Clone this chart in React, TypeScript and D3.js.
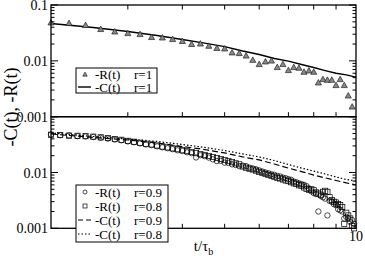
import React from 'react';
import * as d3 from 'd3';

// upper panel: r = 1
const tUpper = [2.0, 2.2, 2.4, 2.6, 2.8, 3.0, 3.2, 3.4, 3.6, 3.8, 4.0, 4.2, 4.4, 4.6, 4.8, 5.0, 5.2, 5.4, 5.6, 5.8,
  6.0, 6.2, 6.4, 6.6, 6.8, 7.0, 7.2, 7.4, 7.6, 7.8, 8.0, 8.2, 8.4, 8.6, 8.8, 9.0, 9.2, 9.4, 9.6, 9.8];
const rUpper = [0.0482, 0.047, 0.0433, 0.0367, 0.0332, 0.0311, 0.0298, 0.0264, 0.0259, 0.0243, 0.0224, 0.0198,
  0.0202, 0.0184, 0.0168, 0.0165, 0.014, 0.0136, 0.0123, 0.0103, 0.00866, 0.00964, 0.01, 0.00765, 0.00866,
  0.00676, 0.00765, 0.00743, 0.0063, 0.00665, 0.0063, 0.00406, 0.00466, 0.00453, 0.00453, 0.00364, 0.00466,
  0.00364, 0.00237, 0.0015];

const tLine = [2, 2.5, 3, 3.5, 4, 4.5, 5, 5.5, 6, 6.5, 7, 7.5, 8, 8.5, 9, 9.5, 10];
const cUpper = [0.0466, 0.0395, 0.0335, 0.0284, 0.0241, 0.0208, 0.018, 0.015, 0.013, 0.011, 0.0099, 0.0086,
  0.0076, 0.0067, 0.006, 0.0056, 0.0051];

// lower panel: r = 0.9 and r = 0.8
const cLower09 = [0.049, 0.0424, 0.0382, 0.0338, 0.0292, 0.0258, 0.0224, 0.019, 0.0168, 0.0142, 0.012, 0.0104,
  0.009, 0.008, 0.0072, 0.0065, 0.006];
const cLower08 = [0.051, 0.0442, 0.0398, 0.036, 0.0318, 0.0281, 0.0248, 0.0215, 0.019, 0.0164, 0.0139, 0.012,
  0.0106, 0.0094, 0.0083, 0.0075, 0.00704];

const tLower = [2.0, 2.1, 2.2, 2.3, 2.4, 2.5, 2.6, 2.7, 2.8, 2.9, 3.0, 3.1, 3.2, 3.3, 3.4, 3.5, 3.6, 3.7, 3.8, 3.9,
  4.0, 4.1, 4.2, 4.3, 4.4, 4.5, 4.6, 4.7, 4.8, 4.9, 5.0, 5.1, 5.2, 5.3, 5.4, 5.5, 5.6, 5.7, 5.8, 5.9,
  6.0, 6.1, 6.2, 6.3, 6.4, 6.5, 6.6, 6.7, 6.8, 6.9, 7.0, 7.1, 7.2, 7.3, 7.4, 7.5, 7.6, 7.7, 7.8, 7.9,
  8.0, 8.1, 8.2, 8.3, 8.4, 8.5, 8.6, 8.7, 8.8, 8.9, 9.0, 9.1, 9.2, 9.3, 9.4, 9.5, 9.6, 9.7, 9.8, 9.9];
const rLower09 = [0.048, 0.0465, 0.0462, 0.0448, 0.0442, 0.0432, 0.0418, 0.0405, 0.039, 0.0378,
  0.0361, 0.0348, 0.0332, 0.0318, 0.0309, 0.0294, 0.0283, 0.0272, 0.0262, 0.025,
  0.0243, 0.023, 0.0222, 0.0186, 0.0204, 0.0196, 0.0185, 0.0172, 0.016, 0.0162,
  0.015, 0.0148, 0.014, 0.0136, 0.013, 0.0133, 0.013, 0.0122, 0.0118, 0.0114,
  0.0109, 0.0104, 0.01, 0.0097, 0.0093, 0.0091, 0.0087, 0.0085, 0.0081, 0.0079,
  0.0076, 0.0074, 0.0069, 0.0067, 0.0064, 0.0062, 0.006, 0.0057, 0.0052, 0.0046,
  0.0043, 0.0041, 0.002, 0.0038, 0.0036, 0.0034, 0.0017, 0.0031, 0.003, 0.0027,
  0.0026, 0.0022, 0.0021, 0.002, 0.0015, 0.0016, 0.0015, 0.0013, 0.0014, 0.0012];
const rLower08 = [0.0475, 0.047, 0.0458, 0.0455, 0.0448, 0.044, 0.0428, 0.0415, 0.0398, 0.0386,
  0.037, 0.0356, 0.0342, 0.0328, 0.0318, 0.0305, 0.0292, 0.0282, 0.0271, 0.0262,
  0.0251, 0.0242, 0.0233, 0.0222, 0.0214, 0.0205, 0.0198, 0.019, 0.0182, 0.0175,
  0.0167, 0.016, 0.0153, 0.0146, 0.014, 0.0128, 0.0122, 0.0117, 0.0113, 0.0108,
  0.0103, 0.0099, 0.0094, 0.009, 0.0087, 0.0084, 0.008, 0.0078, 0.0075, 0.0072,
  0.007, 0.0067, 0.0064, 0.0062, 0.0059, 0.0058, 0.0054, 0.0051, 0.0049, 0.005,
  0.0048, 0.0044, 0.0042, 0.004, 0.0045, 0.0047, 0.0045, 0.0036, 0.0032, 0.003,
  0.0029, 0.0027, 0.0026, 0.0024, 0.0012, 0.0019, 0.0017, 0.0015, 0.0011, 0.001];

const yDecades = [0.1, 0.01, 0.001];
const xMinor = [3, 4, 5, 6, 7, 8, 9];

const W = 365, H = 261;
const L = 51, R = 356;
const TOP = 5, MID = 116.7, BOT = 228.3;
const FONT = "'Liberation Serif', 'Times New Roman', serif";

const x = d3.scaleLog().domain([2, 10]).range([L, R]);
const yUp = d3.scaleLog().domain([0.001, 0.1]).range([MID, TOP]);
const yLo = d3.scaleLog().domain([0.001, 0.1]).range([BOT, MID]);

const yMinor: number[] = [];
[0.001, 0.01].forEach(d => { for (let k = 2; k <= 9; k++) yMinor.push(d * k); });

const tri = (cx: number, cy: number, s: number) =>
  `M${cx},${cy - s}L${cx + s * 0.95},${cy + s * 0.7}L${cx - s * 0.95},${cy + s * 0.7}Z`;

function Frame({ y, y0, y1, topTicks }: { y: d3.ScaleLogarithmic<number, number>; y0: number; y1: number; topTicks: boolean }) {
  return (
    <g stroke="#000" strokeWidth={1}>
      <rect x={L} y={y0} width={R - L} height={y1 - y0} fill="none" strokeWidth={1.3} />
      {xMinor.map(t => (
        <g key={t}>
          {topTicks && <line x1={x(t)} x2={x(t)} y1={y0} y2={y0 + 4.5} />}
          <line x1={x(t)} x2={x(t)} y1={y1} y2={y1 - 4.5} />
        </g>
      ))}
      {yMinor.map(v => (
        <g key={v}>
          <line x1={L} x2={L + 3.5} y1={y(v)} y2={y(v)} />
          <line x1={R} x2={R - 3.5} y1={y(v)} y2={y(v)} />
        </g>
      ))}
      {yDecades.map(v => (
        <g key={v}>
          <line x1={L} x2={L + 7} y1={y(v)} y2={y(v)} />
          <line x1={R} x2={R - 7} y1={y(v)} y2={y(v)} />
        </g>
      ))}
    </g>
  );
}

export default function App() {
  const lineUp = d3.line<number>().x((_, i) => x(tLine[i])).y(d => yUp(d));
  const lineLo = d3.line<number>().x((_, i) => x(tLine[i])).y(d => yLo(d));
  return (
    <svg width={W} height={H} style={{ position: 'absolute', left: 0, top: 0, background: '#fff', fontFamily: FONT }}>
      {/* upper panel */}
      <path d={lineUp(cUpper) || ''} fill="none" stroke="#000" strokeWidth={1.4} />
      {rUpper.map((v, i) => (
        <path key={i} d={tri(x(tUpper[i]), yUp(v), 3.2)} fill="#888" stroke="#222" strokeWidth={0.7} />
      ))}
      <Frame y={yUp} y0={TOP} y1={MID} topTicks={true} />

      {/* lower panel */}
      <path d={lineLo(cLower08) || ''} fill="none" stroke="#000" strokeWidth={1.2} strokeDasharray="1.5,2" />
      <path d={lineLo(cLower09) || ''} fill="none" stroke="#000" strokeWidth={1.2} strokeDasharray="6,3" />
      {rLower09.map((v, i) => (
        <circle key={'c' + i} cx={x(tLower[i])} cy={yLo(v)} r={2.7} fill="none" stroke="#000" strokeWidth={0.7} />
      ))}
      {rLower08.map((v, i) => (
        <rect key={'s' + i} x={x(tLower[i]) - 2.6} y={yLo(v) - 2.6} width={5.2} height={5.2}
          fill="none" stroke="#000" strokeWidth={0.7} />
      ))}
      <Frame y={yLo} y0={MID} y1={BOT} topTicks={false} />

      {/* y tick labels */}
      <g fontSize={14} textAnchor="end">
        {yDecades.map(v => (
          <text key={'u' + v} x={L - 3} y={yUp(v) + 5}>{String(v)}</text>
        ))}
        {yDecades.slice(1).map(v => (
          <text key={'l' + v} x={L - 3} y={yLo(v) + 5}>{String(v)}</text>
        ))}
      </g>
      <text x={R} y={BOT + 13} fontSize={14} textAnchor="middle">10</text>

      {/* axis titles */}
      <text transform="translate(17,107) rotate(-90)" fontSize={18} textAnchor="middle">-C(t), -R(t)</text>
      <text x={(L + R) / 2} y={251} fontSize={15} textAnchor="middle">t/τ<tspan fontSize={10} dy={4}>b</tspan></text>

      {/* upper legend */}
      <g fontSize={13}>
        <rect x={76} y={68} width={81} height={25} fill="#fff" stroke="#000" strokeWidth={1} />
        <path d={tri(85, 74.5, 2.4)} fill="#888" stroke="#222" strokeWidth={0.6} />
        <text x={95} y={79}>-R(t)</text>
        <text x={134} y={79}>r=1</text>
        <line x1={78} x2={91} y1={87} y2={87} stroke="#000" strokeWidth={1.4} />
        <text x={95} y={91.5}>-C(t)</text>
        <text x={134} y={91.5}>r=1</text>
      </g>

      {/* lower legend */}
      <g fontSize={13}>
        <rect x={76} y={185} width={92} height={57} fill="#fff" stroke="#000" strokeWidth={1} />
        <circle cx={85} cy={192} r={2} fill="none" stroke="#000" strokeWidth={0.7} />
        <text x={95} y={196.5}>-R(t)</text>
        <text x={134} y={196.5}>r=0.9</text>
        <rect x={83} y={204} width={4} height={4} fill="none" stroke="#000" strokeWidth={0.7} />
        <text x={95} y={210.5}>-R(t)</text>
        <text x={134} y={210.5}>r=0.8</text>
        <line x1={78} x2={92} y1={220} y2={220} stroke="#000" strokeWidth={1.2} strokeDasharray="5,3" />
        <text x={95} y={224.5}>-C(t)</text>
        <text x={134} y={224.5}>r=0.9</text>
        <line x1={78} x2={92} y1={234} y2={234} stroke="#000" strokeWidth={1.2} strokeDasharray="1.5,2" />
        <text x={95} y={238.5}>-C(t)</text>
        <text x={134} y={238.5}>r=0.8</text>
      </g>
    </svg>
  );
}
